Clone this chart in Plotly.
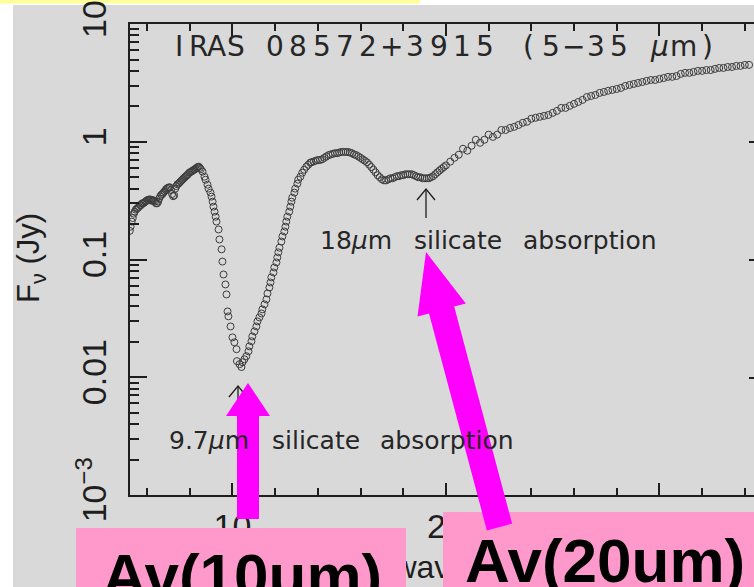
import plotly.graph_objects as go

# ---------------------------------------------------------------------------
# Mid-infrared spectrum of IRAS 08572+3915: wavelength (um) and flux density (Jy)
# ---------------------------------------------------------------------------
wavelength_um = [
    # 5-8.5 um continuum
    5.19, 5.23, 5.28, 5.33, 5.38, 5.42, 5.47, 5.52, 5.57, 5.62, 5.67, 5.72, 5.77, 5.82,
    5.87, 5.92, 5.97, 6.02, 6.07, 6.12, 6.17, 6.22, 6.27, 6.32, 6.37, 6.42, 6.47, 6.52,
    6.57, 6.62, 6.67, 6.72, 6.77, 6.82, 6.87, 6.92, 6.97, 7.02, 7.07, 7.12, 7.17, 7.22,
    7.27, 7.32, 7.37, 7.42, 7.47, 7.52, 7.57, 7.62, 7.67, 7.72, 7.77, 7.82, 7.87, 7.92,
    7.97, 8.02, 8.07, 8.12, 8.17, 8.22, 8.27, 8.32, 8.37, 8.42, 8.47, 8.52,
    # blue wing of the 9.7 um feature
    8.60, 8.69, 8.74, 8.83, 8.88, 8.97, 9.02, 9.07, 9.11, 9.16, 9.21, 9.25, 9.35, 9.39,
    9.49, 9.53, 9.58, 9.67, 9.72, 9.77, 9.81, 9.91, 10.00, 10.09, 10.19, 10.21, 10.33,
    10.42, 10.47,
    # red wing of the 9.7 um feature
    10.56, 10.65, 10.75, 10.79, 10.89, 10.93, 11.03, 11.12, 11.17, 11.26, 11.36, 11.40,
    11.50, 11.59, 11.64, 11.73, 11.78, 11.82, 11.92, 11.96, 12.06, 12.10, 12.15, 12.20,
    12.29, 12.34, 12.43, 12.48, 12.52, 12.57, 12.66, 12.71, 12.76, 12.80, 12.90, 12.94,
    13.04, 13.08, 13.18, 13.27, 13.36, 13.46, 13.55, 13.64,
    # 14-20 um, including the 18 um feature
    13.7, 13.8, 13.9, 14.0, 14.1, 14.2, 14.3, 14.4, 14.5, 14.6, 14.7, 14.8, 14.9, 15.0,
    15.1, 15.2, 15.3, 15.4, 15.5, 15.6, 15.7, 15.8, 15.9, 16.0, 16.1, 16.2, 16.3, 16.4,
    16.5, 16.6, 16.7, 16.8, 16.9, 17.0, 17.1, 17.2, 17.3, 17.4, 17.5, 17.6, 17.7, 17.8,
    17.9, 18.0, 18.1, 18.2, 18.3, 18.4, 18.5, 18.6, 18.7, 18.8, 18.9, 19.0, 19.1, 19.2,
    19.3, 19.4, 19.5, 19.6, 19.7, 19.8, 19.9, 20.0,
    # 20-35 um continuum
    20.2, 20.4, 20.6, 20.8, 21.0, 21.2, 21.4, 21.6, 21.8, 22.0, 22.2, 22.4, 22.6, 22.8,
    23.0, 23.2, 23.4, 23.6, 23.8, 24.0, 24.2, 24.4, 24.6, 24.8, 25.0, 25.2, 25.4, 25.6,
    25.8, 26.0, 26.2, 26.4, 26.6, 26.8, 27.0, 27.2, 27.4, 27.6, 27.8, 28.0, 28.2, 28.4,
    28.6, 28.8, 29.0, 29.2, 29.4, 29.6, 29.8, 30.0, 30.2, 30.4, 30.6, 30.8, 31.0, 31.2,
    31.4, 31.6, 31.8, 32.0, 32.2, 32.4, 32.6, 32.8, 33.0, 33.2, 33.4, 33.6, 33.8, 34.0,
    34.2,
]

flux_jy = [
    0.175, 0.19, 0.21, 0.225, 0.245, 0.255, 0.265, 0.27, 0.275, 0.28, 0.29, 0.29, 0.30, 0.30,
    0.305, 0.31, 0.315, 0.32, 0.32, 0.325, 0.32, 0.315, 0.32, 0.315, 0.31, 0.30, 0.30, 0.31,
    0.33, 0.345, 0.355, 0.36, 0.37, 0.38, 0.39, 0.40, 0.405, 0.41, 0.41, 0.39, 0.36, 0.345,
    0.35, 0.40, 0.42, 0.435, 0.44, 0.45, 0.46, 0.47, 0.48, 0.49, 0.50, 0.51, 0.52, 0.53,
    0.545, 0.55, 0.56, 0.565, 0.575, 0.58, 0.59, 0.60, 0.61, 0.615, 0.60, 0.585,
    0.557, 0.505, 0.476, 0.432, 0.400, 0.370, 0.342, 0.310, 0.281, 0.255, 0.231, 0.210, 0.180, 0.148,
    0.122, 0.096, 0.0746, 0.0614, 0.0505, 0.0362, 0.0329, 0.0270, 0.0218, 0.0198, 0.0173, 0.0137, 0.0129,
    0.0122, 0.0134,
    0.0142, 0.0151, 0.0166, 0.0183, 0.0202, 0.0222, 0.0245, 0.0270, 0.0298, 0.0322, 0.0348, 0.0377,
    0.0416, 0.0458, 0.0515, 0.0579, 0.0638, 0.0704, 0.0776, 0.0855, 0.0944, 0.104, 0.115, 0.126,
    0.142, 0.157, 0.173, 0.190, 0.210, 0.231, 0.255, 0.281, 0.310, 0.335, 0.370, 0.400,
    0.441, 0.476, 0.505, 0.546, 0.579, 0.614, 0.638, 0.664,
    0.67, 0.68, 0.69, 0.70, 0.70, 0.71, 0.73, 0.75, 0.77, 0.78, 0.79, 0.80, 0.80, 0.81,
    0.82, 0.82, 0.82, 0.82, 0.81, 0.80, 0.78, 0.77, 0.75, 0.73, 0.71, 0.69, 0.67, 0.64,
    0.61, 0.58, 0.55, 0.52, 0.50, 0.48, 0.47, 0.47, 0.48, 0.49, 0.49, 0.50, 0.51, 0.51,
    0.52, 0.52, 0.53, 0.53, 0.53, 0.53, 0.52, 0.51, 0.50, 0.50, 0.49, 0.49, 0.49, 0.49,
    0.50, 0.51, 0.53, 0.55, 0.57, 0.59, 0.61, 0.63,
    0.678, 0.731, 0.776, 0.873, 0.840, 0.925, 1.04, 0.98, 1.04, 1.15, 1.10, 1.15, 1.26, 1.26,
    1.31, 1.34, 1.39, 1.45, 1.48, 1.57, 1.60, 1.63, 1.66, 1.69, 1.76, 1.83, 1.94, 1.94,
    2.02, 2.10, 2.18, 2.27, 2.40, 2.45, 2.50, 2.60, 2.65, 2.71, 2.76, 2.81, 2.87, 2.98,
    3.04, 3.10, 3.16, 3.22, 3.29, 3.35, 3.35, 3.42, 3.48, 3.56, 3.56, 3.62, 3.77, 3.85,
    3.85, 3.92, 4.00, 4.00, 4.07, 4.07, 4.16, 4.24, 4.24, 4.32, 4.32, 4.41, 4.41, 4.50,
    4.50,
]

x_tick_vals = [10, 20, 30]
x_tick_text = ["10", "20", "30"]
y_tick_vals = [1e-3, 1e-2, 1e-1, 1, 10]
y_tick_text = ["10<sup>\u22123</sup>", "0.01", "0.1", "1", "10"]
y_minor_vals = [m * 10.0 ** e for e in range(-3, 1) for m in range(2, 10)]
x_title = "wavelength (\u03bcm)"

# ---------------------------------------------------------------------------
# Page geometry (pixels) and helpers to place decorations
# ---------------------------------------------------------------------------
FIG_W, FIG_H = 754, 587
PL, PR, PT, PB = 130, 754, 24, 495          # plot box edges
X_RANGE = [5.2, 34.43]
Y_RANGE = [-3.0005, 1.0005]                  # log10 of flux


def fx(p):
    return (p - PL) / (PR - PL)


def fy(p):
    return (PB - p) / (PB - PT)


def data_x(p):
    return X_RANGE[0] + fx(p) * (X_RANGE[1] - X_RANGE[0])


def poly(points, closed=True):
    s = "M " + " L ".join(f"{fx(x):.5f},{fy(y):.5f}" for x, y in points)
    return s + (" Z" if closed else "")


TEXT = "#1e1e1e"
GRAY = "#d9d9d9"
PINK = "#ff99cc"
MAGENTA = "#ff00ff"

fig = go.Figure()

fig.add_trace(go.Scatter(
    x=wavelength_um,
    y=flux_jy,
    mode="markers",
    marker=dict(symbol="circle-open", size=7, color="#3c3c3c", line=dict(width=1)),
    hoverinfo="x+y",
    showlegend=False,
))
# empty trace that registers the overlay axis carrying the x-axis title
fig.add_trace(go.Scatter(x=[], y=[], xaxis="x2", yaxis="y", showlegend=False, hoverinfo="skip"))

shapes = []
# slide panel and the strip above it
shapes.append(dict(type="rect", xref="paper", yref="paper", x0=fx(13), x1=fx(754),
                   y0=fy(587), y1=fy(5), fillcolor=GRAY, line=dict(width=0), layer="below"))
shapes.append(dict(type="rect", xref="paper", yref="paper", x0=fx(0), x1=fx(420),
                   y0=fy(3.5), y1=fy(0), fillcolor="#ffff99", line=dict(width=0), layer="below"))

# small black pointers for the two absorption features
for tip_x, tip_y, tail_y in [(426, 189, 218), (238, 386, 402)]:
    shapes.append(dict(type="path", xref="paper", yref="paper",
                       path=poly([(tip_x, tail_y), (tip_x, tip_y)], closed=False),
                       line=dict(color=TEXT, width=1.3), layer="above"))
    shapes.append(dict(type="path", xref="paper", yref="paper",
                       path=poly([(tip_x - 9, tip_y + 11), (tip_x, tip_y), (tip_x + 9, tip_y + 11)],
                                 closed=False),
                       line=dict(color=TEXT, width=1.3), layer="above"))

# mirrored major ticks of the right-hand frame, just inside the page edge
for ty in (142, 260, 378):
    shapes.append(dict(type="line", xref="paper", yref="paper", x0=fx(749), x1=fx(754),
                       y0=fy(ty), y1=fy(ty), line=dict(color=TEXT, width=2), layer="above"))

# pink caption boxes
shapes.append(dict(type="rect", xref="paper", yref="paper", x0=fx(76), x1=fx(406),
                   y0=fy(590), y1=fy(528), fillcolor=PINK, line=dict(width=0), layer="above"))
shapes.append(dict(type="rect", xref="paper", yref="paper", x0=fx(443), x1=fx(754),
                   y0=fy(590), y1=fy(512), fillcolor=PINK, line=dict(width=0), layer="above"))

# magenta block arrows
shapes.append(dict(type="path", xref="paper", yref="paper",
                   path=poly([(237, 519), (237, 416), (226, 416), (248, 383),
                              (270, 416), (259, 416), (259, 519)]),
                   fillcolor=MAGENTA, line=dict(width=0), layer="above"))
shapes.append(dict(type="path", xref="paper", yref="paper",
                   path=poly([(429.0, 313.4), (417.5, 316.5), (426, 252), (465.8, 303.5),
                              (454.2, 306.6), (512.1, 523.6), (486.9, 530.4)]),
                   fillcolor=MAGENTA, line=dict(width=0), layer="above"))

annotations = []


def label(text, cx, cy, size, anchor="center", family="DejaVu Sans", color=TEXT,
          angle=0, bold=False):
    annotations.append(dict(
        text=f"<b>{text}</b>" if bold else text,
        xref="paper", yref="paper", x=fx(cx), y=fy(cy),
        xanchor=anchor, yanchor="middle", showarrow=False, textangle=angle,
        font=dict(family=family, size=size, color=color),
    ))


# plot title, set in wide, evenly spaced glyphs
title_runs = [
    (["I", "R", "A", "S"], 170, 245),
    (list("08572+3915"), 263, 497),
    (["(", "5", "\u2212", "3", "5"], 517, 630),
    (["<i>\u03bc</i>", "m", ")"], 647, 720),
]
for chars, x0, x1 in title_runs:
    step = (x1 - x0) / len(chars)
    for i, ch in enumerate(chars):
        label(ch, x0 + step * (i + 0.5), 46, 28, color="#262626")

# feature labels
for word, lx in [("18<i>\u03bc</i>m", 318), ("silicate", 412), ("absorption", 521)]:
    label(word, lx, 240, 25, anchor="left", color="#262626")
for word, lx in [("9.7<i>\u03bc</i>m", 167), ("silicate", 270), ("absorption", 378)]:
    label(word, lx, 440, 25, anchor="left", color="#262626")

# y-axis title
label("F<sub>\u03bd</sub> (Jy)", 31, 258, 31, family="Liberation Sans", angle=-90)

# captions
label("Av(10um)", 100, 575, 62, anchor="left", family="Liberation Sans", color="#000000", bold=True)
label("Av(20um)", 463, 560, 62, anchor="left", family="Liberation Sans", color="#000000", bold=True)

fig.update_layout(
    width=FIG_W,
    height=FIG_H,
    margin=dict(l=PL, r=FIG_W - PR, t=PT, b=FIG_H - PB, pad=0),
    paper_bgcolor="#ffffff",
    plot_bgcolor="rgba(0,0,0,0)",
    shapes=shapes,
    annotations=annotations,
    font=dict(family="Liberation Sans", color=TEXT),
    # overlay axis whose single tick label is the x-axis title (drawn beneath the caption boxes)
    xaxis2=dict(
        overlaying="x", anchor="y", side="bottom", range=X_RANGE,
        showgrid=False, zeroline=False, showline=False, ticks="",
        tickvals=[data_x(394 + 118)], ticktext=[x_title],
        tickfont=dict(size=32, color=TEXT, family="Liberation Sans"),
        ticklabelstandoff=50,
    ),
)

fig.layout.xaxis.update(
    range=X_RANGE,
    showgrid=False, zeroline=False,
    showline=True, linewidth=2, linecolor=TEXT, mirror="allticks",
    ticks="inside", ticklen=12, tickwidth=1.5, tickcolor=TEXT,
    tickvals=x_tick_vals, ticktext=x_tick_text,
    tickfont=dict(size=34, color=TEXT, family="Liberation Sans"),
    minor=dict(ticks="inside", ticklen=7, tickwidth=1.5, tickcolor=TEXT, dtick=2, tick0=0),
)

fig.update_yaxes(
    type="log",
    range=Y_RANGE,
    showgrid=False, zeroline=False,
    showline=True, linewidth=2, linecolor=TEXT, mirror=False,
    ticks="inside", ticklen=17, tickwidth=1.5, tickcolor=TEXT,
    tickvals=y_tick_vals, ticktext=y_tick_text, tickangle=-90,
    tickfont=dict(size=34, color=TEXT, family="Liberation Sans"),
    ticklabelstandoff=8, ticklabeloverflow="allow",
    minor=dict(ticks="inside", ticklen=9, tickwidth=1.5, tickcolor=TEXT, tickvals=y_minor_vals),
)

fig.write_html("out.html", config={"displayModeBar": False})
